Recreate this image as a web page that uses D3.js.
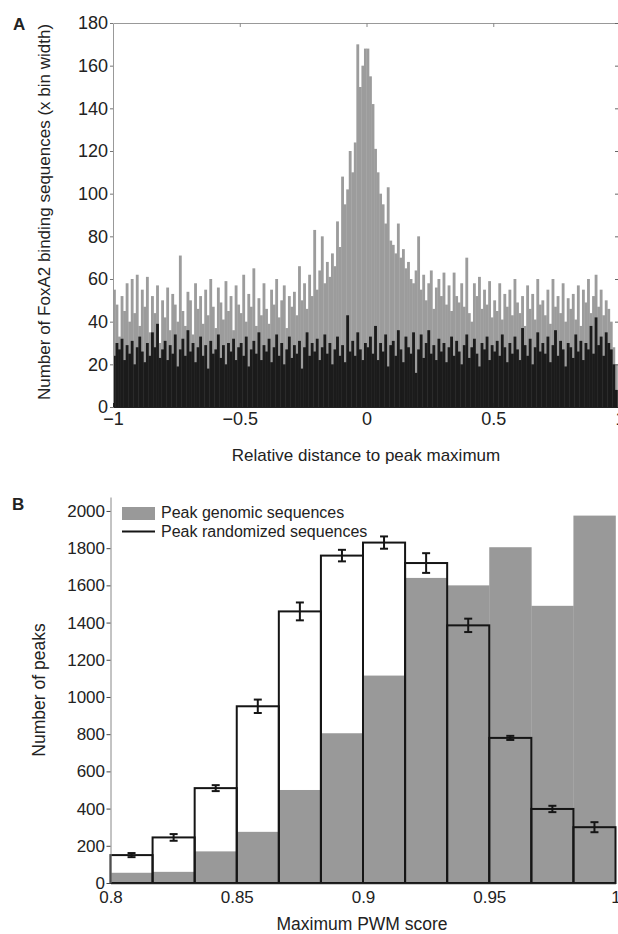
<!DOCTYPE html>
<html>
<head>
<meta charset="utf-8">
<script src="https://cdn.jsdelivr.net/npm/d3@7"></script>
<style>
  body { margin: 0; background: #fff; }
  text { font-family: "Liberation Sans", Arial, sans-serif; fill: #222; }
</style>
</head>
<body>
<div id="chart"></div>
<script>
// Panel A: counts per bin (bin width 0.01, starting at -1)
const distStart = -1;
const distStep = 0.01;
const peakCounts = [
  55, 48, 33, 52, 45, 58, 40, 60, 44, 62,
  38, 55, 47, 61, 35, 52, 44, 57, 30, 50,
  42, 56, 36, 53, 48, 40, 71, 45, 38, 54,
  50, 34, 58, 46, 52, 39, 55, 43, 60, 47,
  37, 56, 49, 41, 59, 45, 52, 36, 57, 48,
  44, 62, 40, 53, 47, 65, 38, 51, 43, 58,
  46, 39, 55, 48, 60, 42, 50, 57, 37, 52,
  47, 54, 43, 66, 50, 58, 46, 62, 52, 83,
  55, 64, 80, 58, 68, 61, 72, 66, 87, 75,
  108, 95, 102, 120, 110, 124, 170, 150, 160, 168,
  168, 155, 142, 121, 110, 100, 95, 86, 103, 78,
  76, 72, 86, 70, 74, 65, 68, 60, 58, 64,
  80, 55, 62, 50, 58, 64, 46, 56, 60, 52,
  63, 48, 57, 45, 63, 52, 49, 58, 47, 70,
  44, 40, 58, 52, 61, 46, 55, 48, 59, 42,
  50, 45, 58, 41, 53, 47, 55, 43, 60, 49,
  44, 52, 38, 57, 46, 53, 41, 60, 48, 50,
  43, 55, 39, 60, 47, 52, 44, 58, 40, 51,
  46, 53, 41, 57, 38, 55, 49, 60, 44, 52,
  62, 47, 55, 43, 50, 46, 40, 28, 20
];
const randomCounts = [
  24, 30, 27, 32, 22, 29, 25, 31, 20, 28,
  33, 26, 21, 30, 24, 35, 28, 39, 23, 27,
  31, 22, 29, 25, 34, 19, 27, 32, 24, 36,
  26, 30, 21, 28, 33, 24, 29, 18, 31, 25,
  27, 34, 23, 29, 20, 30, 26, 32, 22, 28,
  30, 24, 33, 19, 27, 31, 25, 35, 22, 29,
  26, 32, 21, 28, 34, 24, 30, 20, 27, 33,
  23, 29, 25, 31, 18, 28, 35, 24, 30, 26,
  32, 22, 28, 34, 25, 30, 20, 27, 33, 24,
  29, 21, 43, 26, 31, 24, 35, 27, 22, 30,
  28, 33, 25, 38, 22, 30, 26, 34, 19, 29,
  31, 24, 36, 27, 21, 33, 28, 25, 35, 16,
  27, 34, 23, 30, 36, 25, 29, 22, 32, 26,
  30, 21, 28, 33, 24, 31, 26, 20, 29, 34,
  23, 28, 32, 25, 19, 30, 27, 33, 22, 29,
  26, 31, 24, 34, 28, 21, 30, 25, 33, 27,
  22, 37, 29, 24, 32, 20, 28, 35, 26, 30,
  25, 33, 21, 29, 36, 24, 31, 27, 19, 30,
  28, 23, 34, 26, 31, 22, 30, 27, 38, 25,
  42, 29, 33, 24, 35, 30, 27, 20, 8
];
const distTicks = [-1, -0.5, 0, 0.5, 1];
const countTicks = [0, 20, 40, 60, 80, 100, 120, 140, 160, 180];

// Panel B: 12 bins from 0.8 to 1
const pwmStart = 0.8;
const pwmStep = 0.2 / 12;
const genomicPeaks = [55, 60, 170, 275, 500, 805, 1115, 1640, 1600, 1805, 1490, 1975];
const randomizedPeaks = [150, 245, 510, 950, 1460, 1760, 1830, 1720, 1385, 780, 398, 300];
const randomizedErr = [11, 18, 16, 36, 48, 31, 33, 53, 36, 11, 17, 27];
const pwmTicks = [0.8, 0.85, 0.9, 0.95, 1];
const peakTicks = [0, 200, 400, 600, 800, 1000, 1200, 1400, 1600, 1800, 2000];
const legendLabels = ["Peak genomic sequences", "Peak randomized sequences"];

const width = 618;
const height = 934;
const fmt = d3.format("");
const svg = d3.select("#chart")
  .append("svg")
  .attr("width", width)
  .attr("height", height);

///////////////////////////////////////////////// Panel A
const xA = d3.scaleLinear().domain([-1, 1]).range([113, 620]);
const yA = d3.scaleLinear().domain([0, 180]).range([407, 23]);

const binsA = peakCounts.map((v, i) => ({
  lo: distStart + i * distStep,
  hi: distStart + (i + 1) * distStep,
  peak: v,
  rand: randomCounts[i]
}));

// grey bars (peak sequences)
svg.append("g")
  .selectAll("rect")
  .data(binsA)
  .join("rect")
  .attr("x", d => xA(d.lo))
  .attr("width", d => xA(d.hi) - xA(d.lo) + 0.3)
  .attr("y", d => yA(d.peak))
  .attr("height", d => yA(0) - yA(d.peak))
  .attr("fill", "#9c9c9c");

// black bars (random sequences) in front
svg.append("g")
  .selectAll("rect")
  .data(binsA)
  .join("rect")
  .attr("x", d => xA(d.lo))
  .attr("width", d => xA(d.hi) - xA(d.lo) + 0.3)
  .attr("y", d => yA(d.rand))
  .attr("height", d => yA(0) - yA(d.rand))
  .attr("fill", "#1b1b1b");

// Axes A
const axA = svg.append("g")
  .attr("transform", "translate(113, 0)")
  .call(d3.axisLeft(yA).tickValues(countTicks).tickFormat(fmt).tickSizeInner(3).tickSizeOuter(0).tickPadding(2));
axA.select(".domain").attr("stroke", "#999");
axA.selectAll(".tick line").attr("stroke", "#777");
axA.selectAll("text").style("font-size", "18px").attr("fill", "#222");

svg.append("g")
  .attr("transform", "translate(0, 23)")
  .call(d3.axisTop(xA).tickValues([-0.5, 0, 0.5]).tickSizeInner(-4).tickSizeOuter(0).tickFormat(""))
  .call(g => g.select(".domain").attr("stroke", "#999"))
  .call(g => g.selectAll(".tick line").attr("stroke", "#888"));

svg.append("g")
  .attr("transform", "translate(619, 0)")
  .call(d3.axisRight(yA).tickValues(countTicks).tickSizeInner(-4).tickSizeOuter(0).tickFormat(""))
  .call(g => g.selectAll(".tick line").attr("stroke", "#666"));

const bxA = svg.append("g")
  .attr("transform", "translate(0, 407)")
  .call(d3.axisBottom(xA).tickValues(distTicks).tickFormat(fmt).tickSizeInner(-4).tickSizeOuter(0).tickPadding(5));
bxA.select(".domain").attr("stroke", "#222");
bxA.selectAll(".tick line").attr("stroke", "#222");
bxA.selectAll("text").style("font-size", "18px").attr("fill", "#222");

// Labels A
svg.append("text")
  .attr("x", 13)
  .attr("y", 30)
  .style("font-size", "17px")
  .style("font-weight", "bold")
  .text("A");
svg.append("text")
  .attr("transform", "rotate(-90)")
  .attr("x", -212)
  .attr("y", 50)
  .attr("text-anchor", "middle")
  .style("font-size", "17px")
  .text("Number of FoxA2 binding sequences (x bin width)");
svg.append("text")
  .attr("x", 366)
  .attr("y", 461)
  .attr("text-anchor", "middle")
  .style("font-size", "17px")
  .text("Relative distance to peak maximum");

///////////////////////////////////////////////// Panel B
const xB = d3.scaleLinear().domain([0.8, 1]).range([110.5, 615.5]);
const yB = d3.scaleLinear().domain([0, 2075]).range([883, 497]);

const binsB = genomicPeaks.map((v, i) => ({
  lo: pwmStart + i * pwmStep,
  hi: pwmStart + (i + 1) * pwmStep,
  genomic: v,
  rand: randomizedPeaks[i],
  err: randomizedErr[i]
}));

svg.append("g")
  .selectAll("rect")
  .data(binsB)
  .join("rect")
  .attr("x", d => xB(d.lo))
  .attr("width", d => xB(d.hi) - xB(d.lo) + 0.3)
  .attr("y", d => yB(d.genomic))
  .attr("height", d => yB(0) - yB(d.genomic))
  .attr("fill", "#999");

svg.append("g")
  .selectAll("rect")
  .data(binsB)
  .join("rect")
  .attr("x", d => xB(d.lo))
  .attr("width", d => xB(d.hi) - xB(d.lo))
  .attr("y", d => yB(d.rand))
  .attr("height", d => yB(0) - yB(d.rand))
  .attr("fill", "none")
  .attr("stroke", "#151515")
  .attr("stroke-width", 2);

// error bars
const errG = svg.append("g")
  .attr("stroke", "#151515")
  .attr("stroke-width", 2);
binsB.forEach(d => {
  const cx = xB((d.lo + d.hi) / 2);
  errG.append("line")
    .attr("x1", cx).attr("x2", cx)
    .attr("y1", yB(d.rand - d.err)).attr("y2", yB(d.rand + d.err));
  [d.rand - d.err, d.rand + d.err].forEach(v => {
    errG.append("line")
      .attr("x1", cx - 4).attr("x2", cx + 4)
      .attr("y1", yB(v)).attr("y2", yB(v));
  });
});

// Axes B
const axB = svg.append("g")
  .attr("transform", "translate(110.5, 0)")
  .call(d3.axisLeft(yB).tickValues(peakTicks).tickFormat(fmt).tickSizeInner(4).tickSizeOuter(0).tickPadding(1.5));
axB.select(".domain").attr("stroke", "#888");
axB.selectAll(".tick line").attr("stroke", "#444");
axB.selectAll("text").style("font-size", "17px").attr("fill", "#222");

const bxB = svg.append("g")
  .attr("transform", "translate(0, 883)")
  .call(d3.axisBottom(xB).tickValues(pwmTicks).tickFormat(fmt).tickSize(0).tickPadding(8));
bxB.select(".domain").attr("stroke", "#222").attr("stroke-width", 1.5);
bxB.selectAll("text").style("font-size", "17px").attr("fill", "#222");

// Legend
const legend = svg.append("g");
legend.append("rect")
  .attr("x", 122).attr("y", 507)
  .attr("width", 33).attr("height", 13)
  .attr("fill", "#999");
legend.append("line")
  .attr("x1", 122).attr("x2", 155)
  .attr("y1", 531.5).attr("y2", 531.5)
  .attr("stroke", "#151515")
  .attr("stroke-width", 2);
legend.selectAll("text")
  .data(legendLabels)
  .join("text")
  .attr("x", 161)
  .attr("y", (d, i) => 518 + i * 18.5)
  .style("font-size", "16px")
  .text(d => d);

// Labels B
svg.append("text")
  .attr("x", 12)
  .attr("y", 510)
  .style("font-size", "17px")
  .style("font-weight", "bold")
  .text("B");
svg.append("text")
  .attr("transform", "rotate(-90)")
  .attr("x", -690)
  .attr("y", 45)
  .attr("text-anchor", "middle")
  .style("font-size", "17.5px")
  .text("Number of peaks");
svg.append("text")
  .attr("x", 362)
  .attr("y", 930)
  .attr("text-anchor", "middle")
  .style("font-size", "17.5px")
  .text("Maximum PWM score");
</script>
</body>
</html>
